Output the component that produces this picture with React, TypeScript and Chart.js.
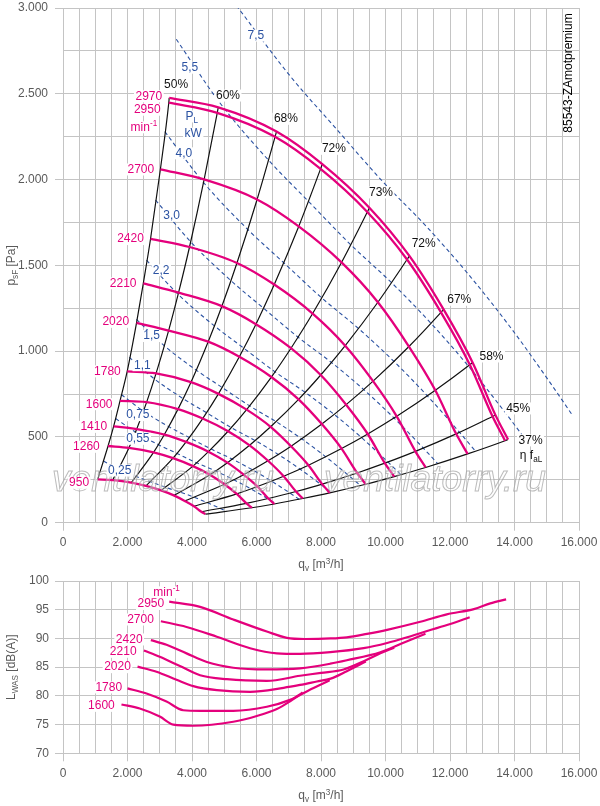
import React, { useEffect, useRef } from 'react';
import { Chart, registerables } from 'chart.js';

Chart.register(...registerables);

const FONT = '"Liberation Sans", Arial, Helvetica, sans-serif';
const PINK = '#e4007c';
const BLUE = '#2b52a2';
const GRID = '#c4c4c4';
const TICK_COLOR = '#5a5a5a';
const BLACK = '#111111';

type Pt = [number, number];

// ---------------- top chart: qv [m3/h] vs psF [Pa] ----------------
const topSpeeds = [950, 1260, 1410, 1600, 1780, 2020, 2210, 2420, 2700, 2950, 2970];

const rpm950: Pt[] = [[1075, 253], [1540, 248], [2118, 233], [2572, 214], [3039, 188], [3435, 159], [3774, 127], [4062, 96], [4289, 64], [4414, 50]];
const rpm1260: Pt[] = [[1397, 447], [2043, 436], [2808, 410], [3411, 376], [4030, 330], [4556, 280], [5006, 224], [5388, 168], [5689, 113], [5855, 87]];
const rpm1410: Pt[] = [[1570, 562], [2286, 546], [3143, 514], [3817, 471], [4510, 414], [5099, 350], [5602, 280], [6029, 211], [6366, 141], [6551, 109]];
const rpm1600: Pt[] = [[1768, 710], [2594, 703], [3566, 662], [4331, 607], [5118, 533], [5786, 451], [6357, 361], [6842, 271], [7224, 182], [7434, 141]];
const rpm1780: Pt[] = [[1990, 882], [2886, 870], [3968, 819], [4819, 751], [5694, 659], [6437, 559], [7072, 446], [7611, 335], [8037, 225], [8271, 174]];
const rpm2020: Pt[] = [[2280, 1165], [3275, 1120], [4502, 1055], [5468, 967], [6461, 849], [7305, 719], [8026, 575], [8638, 432], [9121, 290], [9386, 224]];
const rpm2210: Pt[] = [[2490, 1395], [3583, 1341], [4926, 1262], [5983, 1157], [7069, 1017], [7992, 861], [8780, 688], [9450, 517], [9978, 347], [10269, 269]];
const rpm2420: Pt[] = [[2715, 1655], [3923, 1607], [5394, 1514], [6551, 1388], [7741, 1219], [8751, 1032], [9615, 825], [10348, 620], [10927, 416], [11244, 322]];
const rpm2700: Pt[] = [[3020, 2060], [4377, 2001], [6018, 1884], [7309, 1727], [8636, 1517], [9764, 1285], [10727, 1027], [11545, 772], [12191, 518], [12545, 401]];
const rpm2950: Pt[] = [[3280, 2448], [4783, 2389], [6575, 2249], [7986, 2062], [9436, 1811], [10668, 1534], [11721, 1226], [12614, 921], [13320, 619], [13707, 478]];
const rpm2970: Pt[] = [[3293, 2476], [4815, 2421], [6620, 2280], [8040, 2090], [9500, 1836], [10740, 1555], [11800, 1243], [12700, 934], [13410, 627], [13800, 485]];

const topCurves: Pt[][] = [rpm950, rpm1260, rpm1410, rpm1600, rpm1780, rpm2020, rpm2210, rpm2420, rpm2700, rpm2950, rpm2970];

const efficiencyLabels = ['50%', '60%', '68%', '72%', '73%', '72%', '67%', '58%', '45%', '37%'];

const powerNames = ['0,25', '0,55', '0,75', '1,1', '1,5', '2,2', '3,0', '4,0', '5,5', '7,5'];
const kw025: Pt[] = [[1254, 359], [1729, 312], [2274, 269], [2716, 239], [3185, 206], [3636, 178], [4072, 148], [4484, 116], [4879, 83], [5076, 66]];
const kw055: Pt[] = [[1631, 607], [2249, 528], [2958, 455], [3533, 404], [4142, 349], [4729, 302], [5297, 250], [5832, 197], [6346, 140], [6601, 111]];
const kw075: Pt[] = [[1808, 747], [2494, 650], [3280, 560], [3918, 496], [4593, 429], [5244, 371], [5874, 308], [6467, 242], [7037, 173], [7320, 137]];
const kw110: Pt[] = [[2055, 964], [2834, 838], [3727, 723], [4451, 641], [5218, 554], [5958, 479], [6673, 398], [7347, 313], [7995, 223], [8317, 176]];
const kw150: Pt[] = [[2278, 1185], [3142, 1031], [4133, 889], [4936, 788], [5787, 681], [6607, 589], [7400, 489], [8148, 384], [8866, 274], [9223, 217]];
const kw220: Pt[] = [[2589, 1530], [3570, 1331], [4695, 1147], [5608, 1017], [6575, 879], [7507, 760], [8408, 631], [9257, 496], [10073, 354], [10479, 280]];
const kw300: Pt[] = [[2870, 1881], [3959, 1637], [5207, 1411], [6219, 1250], [7291, 1081], [8324, 934], [9324, 776], [10265, 610], [11171, 435], [11620, 344]];
const kw400: Pt[] = [[3159, 2279], [4357, 1983], [5731, 1709], [6845, 1515], [8024, 1310], [9162, 1132], [10262, 940], [11298, 739], [12295, 527], [12790, 417]];
const kw550: Pt[] = [[3513, 2818], [4845, 2452], [6373, 2113], [7611, 1873], [8923, 1620], [10188, 1399], [11411, 1162], [12564, 914], [13672, 652], [14222, 515]];
const kw750: Pt[] = [[5373, 3015], [7067, 2598], [8440, 2303], [9895, 1992], [11298, 1721], [12654, 1429], [13932, 1124], [15161, 801], [15771, 633]];
const powerLines: Pt[][] = [kw025, kw055, kw075, kw110, kw150, kw220, kw300, kw400, kw550, kw750];
const powerLabelAt: Pt[] = [[1761, 304], [2321, 489], [2321, 627], [2460, 918], [2746, 1088], [3044, 1471], [3368, 1789], [3750, 2153], [3936, 2652], [5980, 2839]];
const powerUnitAt: Pt[] = [[3927, 2368], [4039, 2268]];

// ---------------- bottom chart: qv [m3/h] vs LWAS [dB(A)] ----------------
const bottomSpeeds = [1600, 1780, 2020, 2210, 2420, 2700, 2950];
const lw1600: Pt[] = [[1813, 78.5], [2380, 77.8], [3000, 76.4], [3420, 75.0], [4040, 74.8], [5280, 75.5], [6010, 76.5], [6630, 77.7], [7000, 78.9], [7430, 80.6]];
const lw1780: Pt[] = [[2000, 81.3], [2590, 80.4], [3210, 79.0], [3730, 77.5], [4250, 77.4], [5280, 77.4], [6320, 78.1], [7040, 79.3], [7600, 80.9], [8270, 82.7]];
const lw2020: Pt[] = [[2311, 85.1], [2900, 84.2], [3520, 82.8], [4040, 81.7], [4770, 81.0], [5800, 80.7], [6840, 81.4], [7350, 81.9], [7870, 82.5], [8300, 83.0], [8800, 84.3], [9390, 86.0]];
const lw2210: Pt[] = [[2507, 87.9], [3000, 86.8], [3625, 85.2], [4250, 83.6], [5080, 82.9], [6320, 82.6], [7350, 83.5], [8000, 84.0], [8700, 84.6], [9390, 86.2], [9840, 87.4], [10270, 88.4]];
const lw2420: Pt[] = [[2724, 89.7], [3210, 88.9], [3830, 87.4], [4460, 85.9], [5280, 84.9], [6320, 84.6], [7350, 84.8], [8290, 85.6], [8800, 86.2], [9840, 87.6], [10500, 89.1], [11240, 90.8]];
const lw2700: Pt[] = [[3035, 93.0], [3830, 92.0], [4770, 90.3], [5800, 88.3], [6630, 87.4], [7350, 87.3], [8290, 87.6], [9320, 88.3], [10050, 89.2], [10670, 90.2], [11290, 91.3], [12010, 92.5], [12610, 93.7]];
const lw2950: Pt[] = [[3293, 96.4], [4250, 95.5], [5280, 93.3], [6320, 91.2], [6940, 90.1], [7500, 89.9], [8300, 90.0], [8800, 90.2], [9425, 90.8], [10050, 91.5], [11080, 92.9], [11900, 94.2], [12740, 95.1], [13250, 96.1], [13740, 96.8]];
const bottomCurves: Pt[][] = [lw1600, lw1780, lw2020, lw2210, lw2420, lw2700, lw2950];

// ---------------- label styling (pixel offsets) ----------------
const topSpeedLabelOffset: Pt[] = [[-8.6, 3.5], [-8.3, 0.8], [-6.5, 0.6], [-7.5, 3.3], [-6.4, 0], [-7.4, -1], [-6.8, 0], [-6.7, 0.3], [-6.2, 0.2], [-8.2, 7], [-7, -1.6]];
const effLabelOffset: Pt[] = [[6.9, -13.1], [9.7, -11.8], [9.4, -12.7], [11.6, -15.3], [11.6, -15.3], [14.3, -12.5], [15.7, -9.7], [18.9, -6], [22.7, -6.7], [22.5, 0.9]];
const bottomSpeedLabelOffset: Pt[] = [[-6.7, 1.4], [-5.4, -1], [-6.7, 0.6], [-7.3, 1.3], [-8.3, -0.7], [-7, -1.7], [-5, 2.3]];

function fmtThousands(v: number): string {
  const n = Math.round(v);
  if (Math.abs(n) < 1000) return String(n);
  const th = Math.floor(n / 1000);
  const rest = String(n % 1000).padStart(3, '0');
  return `${th}.${rest}`;
}

type Part = { t: string; k?: 'sub' | 'sup' };

function drawRich(ctx: CanvasRenderingContext2D, parts: Part[], x: number, y: number, size: number, color: string, align: 'left' | 'center' | 'right', bg: boolean) {
  const small = size * 0.68;
  let w = 0;
  const widths = parts.map((p) => {
    ctx.font = `${p.k ? small : size}px ${FONT}`;
    const m = ctx.measureText(p.t).width;
    w += m;
    return m;
  });
  let cx = align === 'center' ? x - w / 2 : align === 'right' ? x - w : x;
  if (bg) {
    ctx.fillStyle = '#ffffff';
    ctx.fillRect(cx - 1.5, y - size * 0.5, w + 3, size * 1.0);
  }
  ctx.fillStyle = color;
  ctx.textAlign = 'left';
  ctx.textBaseline = 'middle';
  parts.forEach((p, i) => {
    ctx.font = `${p.k ? small : size}px ${FONT}`;
    const dy = p.k === 'sub' ? size * 0.32 : p.k === 'sup' ? -size * 0.3 : 0;
    ctx.fillText(p.t, cx, y + dy);
    cx += widths[i];
  });
}

function drawRotated(ctx: CanvasRenderingContext2D, parts: Part[], x: number, y: number, size: number, color: string) {
  ctx.save();
  ctx.translate(x, y);
  ctx.rotate(-Math.PI / 2);
  drawRich(ctx, parts, 0, 0, size, color, 'center', false);
  ctx.restore();
}

const lineDs = (pts: Pt[], color: string, width: number, order: number, dash: number[] = []) => ({
  data: pts.map(([x, y]) => ({ x, y })),
  borderColor: color,
  backgroundColor: color,
  borderWidth: width,
  borderDash: dash,
  pointRadius: 0,
  pointHoverRadius: 0,
  fill: false,
  cubicInterpolationMode: 'monotone' as const,
  order,
});

const xAxis = (height: number) => ({
  type: 'linear' as const,
  min: 0,
  max: 16000,
  afterFit: (s: any) => {
    s.height = height;
    s.paddingLeft = 0;
    s.paddingRight = 0;
  },
  ticks: {
    stepSize: 500,
    autoSkip: false,
    maxRotation: 0,
    minRotation: 0,
    padding: 5,
    color: TICK_COLOR,
    font: { size: 12, family: FONT },
    callback: (v: any) => (Math.round(v) % 2000 === 0 ? fmtThousands(v) : ''),
  },
  grid: {
    color: GRID,
    lineWidth: 1,
    tickLength: 8,
    tickColor: (c: any) => (c.tick && Math.round(c.tick.value) % 2000 === 0 ? GRID : 'rgba(0,0,0,0)'),
  },
  border: { color: GRID, width: 1 },
});

const yAxis = (min: number, max: number, step: number, labelStep: number, pad: number) => ({
  type: 'linear' as const,
  min,
  max,
  afterFit: (s: any) => {
    s.width = 63;
    s.paddingTop = 0;
    s.paddingBottom = 0;
  },
  ticks: {
    stepSize: step,
    autoSkip: false,
    padding: pad,
    color: TICK_COLOR,
    font: { size: 12, family: FONT },
    callback: (v: any) => (Math.round(v) % labelStep === 0 ? fmtThousands(v) : ''),
  },
  grid: {
    color: GRID,
    lineWidth: 1,
    tickLength: 8,
    tickColor: (c: any) => (c.tick && Math.round(c.tick.value) % labelStep === 0 ? GRID : 'rgba(0,0,0,0)'),
  },
  border: { color: GRID, width: 1 },
});

const qvTitle: Part[] = [{ t: 'q' }, { t: 'v', k: 'sub' }, { t: ' [m' }, { t: '3', k: 'sup' }, { t: '/h]' }];

const topDecor = {
  id: 'topDecor',
  afterDatasetsDraw(chart: any) {
    const ctx: CanvasRenderingContext2D = chart.ctx;
    const X = (v: number) => chart.scales.x.getPixelForValue(v);
    const Y = (v: number) => chart.scales.y.getPixelForValue(v);
    ctx.save();
    // watermark (under the labels)
    const wm = 'ventilatorry.ru';
    ctx.font = `italic 36px ${FONT}`;
    const mw = ctx.measureText(wm).width;
    const fs = 36 * 222 / mw;
    ctx.font = `italic ${fs}px ${FONT}`;
    ctx.textAlign = 'center';
    ctx.textBaseline = 'alphabetic';
    ctx.lineWidth = 1;
    [163, 435].forEach((cx) => {
      ctx.fillStyle = 'rgba(255,255,255,0.3)';
      ctx.fillText(wm, cx, 491);
      ctx.strokeStyle = 'rgba(160,160,160,0.7)';
      ctx.strokeText(wm, cx, 491);
    });
    // power labels
    powerNames.forEach((name, i) => {
      const [q, p] = powerLabelAt[i];
      drawRich(ctx, [{ t: name }], X(q), Y(p), 12, BLUE, 'center', true);
    });
    drawRich(ctx, [{ t: 'P' }, { t: 'L', k: 'sub' }], X(powerUnitAt[0][0]) + 2, Y(powerUnitAt[0][1]), 12, BLUE, 'center', true);
    drawRich(ctx, [{ t: 'kW' }], X(powerUnitAt[1][0]), Y(powerUnitAt[1][1]), 12, BLUE, 'center', true);
    // efficiency labels at the outer curve
    efficiencyLabels.forEach((lab, j) => {
      const [q, p] = rpm2970[j];
      const [dx, dy] = effLabelOffset[j];
      drawRich(ctx, [{ t: lab }], X(q) + dx, Y(p) + dy, 12, BLACK, 'center', true);
    });
    const last = rpm2970[rpm2970.length - 1];
    drawRich(ctx, [{ t: 'η f' }, { t: 'aL', k: 'sub' }], X(last[0]) + 11.8, Y(last[1]) + 16.5, 12, BLACK, 'left', false);
    // speed labels
    topSpeeds.forEach((n, i) => {
      const [q, p] = topCurves[i][0];
      const [dx, dy] = topSpeedLabelOffset[i];
      drawRich(ctx, [{ t: String(n) }], X(q) + dx, Y(p) + dy, 12, PINK, 'right', true);
    });
    const s2950 = rpm2950[0];
    drawRich(ctx, [{ t: 'min' }, { t: '-1', k: 'sup' }], X(s2950[0]) - 11.6, Y(s2950[1]) + 24.6, 12, PINK, 'right', true);
    ctx.restore();
  },
  afterDraw(chart: any) {
    const ctx: CanvasRenderingContext2D = chart.ctx;
    const area = chart.chartArea;
    ctx.save();
    drawRotated(ctx, [{ t: 'p' }, { t: 'sF', k: 'sub' }, { t: ' [Pa]' }], 12, (area.top + area.bottom) / 2, 12, TICK_COLOR);
    drawRich(ctx, qvTitle, (area.left + area.right) / 2, 565, 12, TICK_COLOR, 'center', false);
    drawRotated(ctx, [{ t: '85543-ZAmotpremium' }], 569, 73, 12, '#000000');
    ctx.restore();
  },
};

const bottomDecor = {
  id: 'bottomDecor',
  afterDatasetsDraw(chart: any) {
    const ctx: CanvasRenderingContext2D = chart.ctx;
    const X = (v: number) => chart.scales.x.getPixelForValue(v);
    const Y = (v: number) => chart.scales.y.getPixelForValue(v);
    ctx.save();
    bottomSpeeds.forEach((n, i) => {
      const [q, l] = bottomCurves[i][0];
      const [dx, dy] = bottomSpeedLabelOffset[i];
      drawRich(ctx, [{ t: String(n) }], X(q) + dx, Y(l) + dy, 12, PINK, 'right', true);
    });
    const s = lw2950[0];
    drawRich(ctx, [{ t: 'min' }, { t: '-1', k: 'sup' }], X(s[0]) + 10.7, Y(s[1]) - 9.4, 12, PINK, 'right', true);
    ctx.restore();
  },
  afterDraw(chart: any) {
    const ctx: CanvasRenderingContext2D = chart.ctx;
    const area = chart.chartArea;
    ctx.save();
    drawRotated(ctx, [{ t: 'L' }, { t: 'WAS', k: 'sub' }, { t: ' [dB(A)]' }], 12, (area.top + area.bottom) / 2, 12, TICK_COLOR);
    drawRich(ctx, qvTitle, (area.left + area.right) / 2, 221, 12, TICK_COLOR, 'center', false);
    ctx.restore();
  },
};

function topConfig(): any {
  const datasets: any[] = [];
  powerLines.forEach((pts) => datasets.push(lineDs(pts, BLUE, 1.1, 3, [4, 3])));
  efficiencyLabels.forEach((_, j) => {
    datasets.push(lineDs(topCurves.map((c) => c[j]), BLACK, 1.2, 2));
  });
  topCurves.forEach((pts) => datasets.push(lineDs(pts, PINK, 2.3, 1)));
  return {
    type: 'line',
    data: { datasets },
    options: {
      responsive: false,
      animation: false,
      events: [],
      layout: { padding: { top: 8, right: 21, left: 0, bottom: 0 }, autoPadding: false },
      plugins: { legend: { display: false }, tooltip: { enabled: false } },
      scales: {
        x: xAxis(575 - 522.7),
        y: yAxis(0, 3000, 250, 500, 7),
      },
    },
    plugins: [topDecor],
  };
}

function bottomConfig(): any {
  const datasets = bottomCurves.map((pts) => lineDs(pts, PINK, 2.2, 1));
  return {
    type: 'line',
    data: { datasets },
    options: {
      responsive: false,
      animation: false,
      events: [],
      layout: { padding: { top: 6, right: 21, left: 0, bottom: 0 }, autoPadding: false },
      plugins: { legend: { display: false }, tooltip: { enabled: false } },
      scales: {
        x: xAxis(231 - 178.3),
        y: yAxis(70, 100, 5, 5, 6),
      },
    },
    plugins: [bottomDecor],
  };
}

export default function App() {
  const topRef = useRef<HTMLCanvasElement>(null);
  const botRef = useRef<HTMLCanvasElement>(null);
  useEffect(() => {
    Chart.defaults.font.family = FONT;
    const top = new Chart(topRef.current as HTMLCanvasElement, topConfig());
    const bot = new Chart(botRef.current as HTMLCanvasElement, bottomConfig());
    return () => {
      top.destroy();
      bot.destroy();
    };
  }, []);
  return (
    <div style={{ position: 'absolute', left: 0, top: 0, width: 600, height: 806, background: '#ffffff' }}>
      <canvas ref={topRef} width={600} height={575} style={{ position: 'absolute', left: 0, top: 0, width: 600, height: 575 }} />
      <canvas ref={botRef} width={600} height={231} style={{ position: 'absolute', left: 0, top: 575, width: 600, height: 231 }} />
    </div>
  );
}
